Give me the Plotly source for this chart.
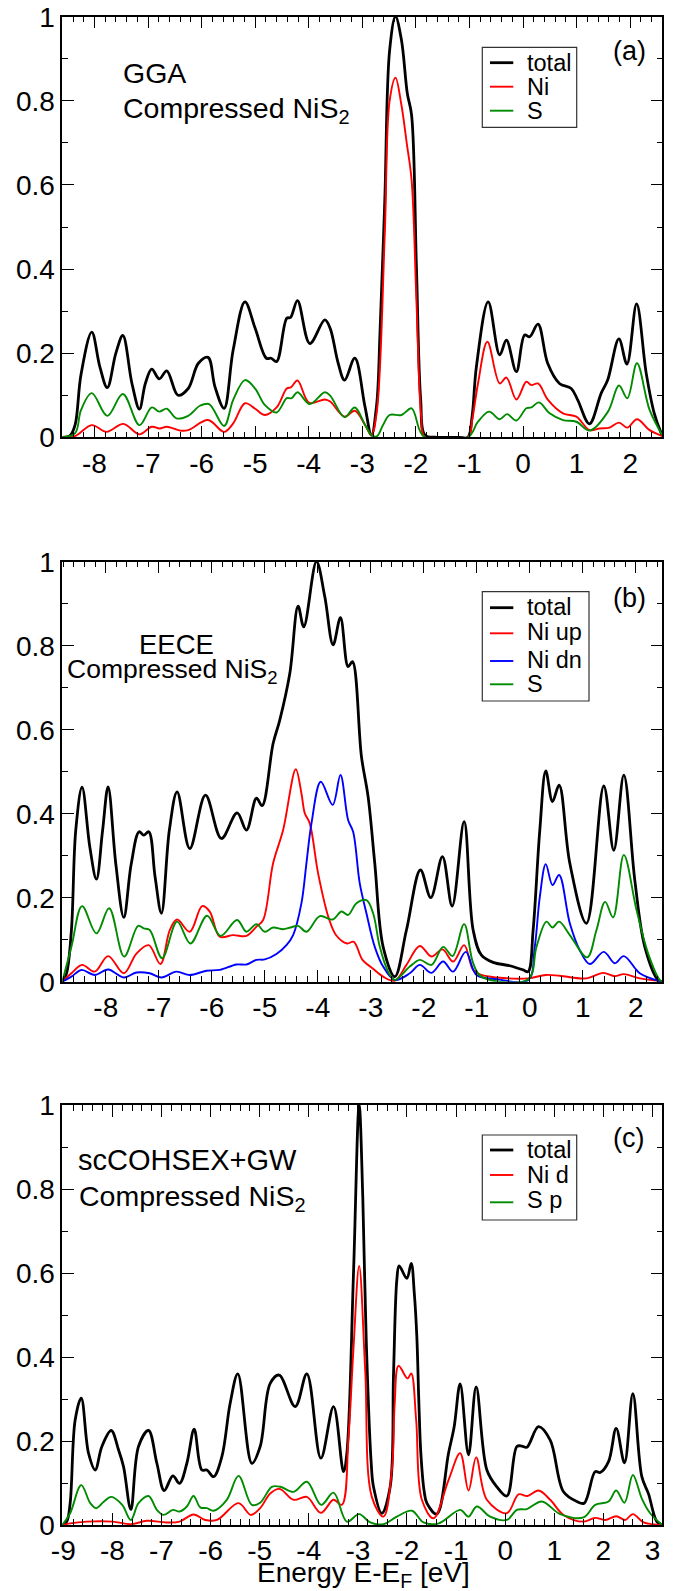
import plotly.graph_objects as go

W, H = 675, 1591
FONT = "Liberation Sans, Arial, Helvetica, sans-serif"

BLACK = "#000000"
RED = "#ff0000"
GREEN = "#008b00"
BLUE = "#0000ff"

# ---------------- panel (a): GGA ----------------
a_total_E = [-8.6, -8.45, -8.36, -8.25, -8.05, -7.9, -7.76, -7.6, -7.47, -7.3, -7.16, -7.05, -6.93, -6.79,
             -6.65, -6.44, -6.25, -6.06, -5.88, -5.75, -5.58, -5.41, -5.19, -5.0, -4.79, -4.70, -4.60, -4.41,
             -4.34, -4.21, -3.98, -3.70, -3.60, -3.45, -3.33, -3.14, -2.95, -2.83, -2.73, -2.67, -2.58, -2.49,
             -2.38, -2.27, -2.16, -2.08, -1.99, -1.91, -1.83, -1.6, -1.2, -1.03, -0.95, -0.87, -0.65, -0.435,
             -0.31, -0.125, 0.03, 0.124, 0.28, 0.46, 0.68, 0.90, 1.02, 1.24, 1.46, 1.58, 1.79, 1.94, 2.12,
             2.30, 2.45, 2.58, 2.6]
a_total = [0.0, 0.005, 0.03, 0.15, 0.25, 0.168, 0.118, 0.2, 0.242, 0.128, 0.067, 0.128, 0.162, 0.139,
           0.158, 0.10, 0.116, 0.176, 0.19, 0.12, 0.069, 0.208, 0.322, 0.259, 0.188, 0.188, 0.18, 0.283,
           0.285, 0.325, 0.223, 0.279, 0.259, 0.176, 0.136, 0.188, 0.073, 0.005, 0.08, 0.247, 0.564, 0.92,
           1.0, 0.945, 0.818, 0.766, 0.406, 0.089, 0.005, 0.0, 0.0, 0.0, 0.05, 0.168, 0.322, 0.196,
           0.231, 0.156, 0.243, 0.239, 0.269, 0.176, 0.128, 0.116, 0.089, 0.032, 0.105, 0.136, 0.234, 0.174, 0.317,
           0.152, 0.057, 0.01, 0.005]

a_ni_E = [-8.6, -8.36, -8.05, -7.77, -7.46, -7.16, -6.93, -6.78, -6.65, -6.4, -6.25, -5.88, -5.58, -5.41,
          -5.19, -5.0, -4.82, -4.60, -4.41, -4.33, -4.21, -3.99, -3.70, -3.60, -3.33, -3.14, -2.95, -2.83,
          -2.73, -2.58, -2.49, -2.38, -2.27, -2.17, -2.08, -1.99, -1.90, -1.83, -1.03, -0.95, -0.84, -0.665,
          -0.435, -0.31, -0.124, 0.062, 0.155, 0.28, 0.466, 0.746, 0.995, 1.244, 1.43, 1.617, 1.791, 1.947,
          2.127, 2.363, 2.6]
a_ni = [0.0, 0.003, 0.029, 0.013, 0.032, 0.007, 0.025, 0.021, 0.025, 0.016, 0.017, 0.041, 0.013, 0.033,
        0.081, 0.068, 0.053, 0.071, 0.116, 0.119, 0.135, 0.082, 0.09, 0.085, 0.049, 0.063, 0.03, 0.005,
        0.06, 0.485, 0.80, 0.855, 0.79, 0.699, 0.612, 0.326, 0.049, 0.0, 0.0, 0.04, 0.128, 0.227,
        0.128, 0.142, 0.09, 0.132, 0.124, 0.128, 0.089, 0.057, 0.049, 0.017, 0.021, 0.023, 0.035, 0.023,
        0.043, 0.017, 0.003]

a_s_E = [-8.6, -8.36, -8.25, -8.05, -7.76, -7.47, -7.16, -6.93, -6.79, -6.65, -6.47, -6.25, -6.03, -5.86,
         -5.58, -5.41, -5.19, -5.0, -4.82, -4.60, -4.41, -4.32, -4.21, -3.98, -3.70, -3.60, -3.33, -3.14,
         -2.95, -2.83, -2.73, -2.61, -2.49, -2.27, -2.08, -1.93, -1.83, -1.03, -0.84, -0.634, -0.435, -0.298,
         -0.124, 0.062, 0.155, 0.298, 0.497, 0.746, 0.995, 1.244, 1.586, 1.791, 1.947, 2.127, 2.363, 2.6]
a_s = [0.0, 0.01, 0.065, 0.105, 0.051, 0.103, 0.029, 0.071, 0.061, 0.068, 0.045, 0.051, 0.075, 0.079,
       0.027, 0.089, 0.136, 0.116, 0.077, 0.059, 0.093, 0.093, 0.107, 0.079, 0.107, 0.099, 0.048, 0.071,
       0.03, 0.005, 0.002, 0.03, 0.053, 0.053, 0.069, 0.017, 0.0, 0.0, 0.037, 0.061, 0.043, 0.055,
       0.04, 0.069, 0.071, 0.083, 0.057, 0.041, 0.037, 0.016, 0.061, 0.123, 0.093, 0.176, 0.065, 0.005]

# ---------------- panel (b): EECE ----------------
b_total_E = [-8.82, -8.74, -8.648, -8.566, -8.447, -8.30, -8.176, -8.06, -7.956, -7.81, -7.66, -7.52, -7.371,
             -7.283, -7.189, -7.07, -6.95, -6.80, -6.654, -6.415, -6.119, -5.818, -5.522, -5.346, -5.157,
             -5.05, -4.843, -4.717, -4.528, -4.371, -4.264, -4.025, -3.868, -3.711, -3.572, -3.428, -3.346,
             -3.176, -3.05, -2.925, -2.767, -2.547, -2.327, -2.063, -1.868, -1.648, -1.465, -1.239, -1.069,
             -0.912, -0.692, -0.377, -0.126, -0.031, 0.063, 0.189, 0.302, 0.428, 0.553, 0.755, 1.069, 1.396,
             1.585, 1.774, 1.981, 2.17, 2.421, 2.5]
b_total = [0.0, 0.02, 0.123, 0.361, 0.463, 0.32, 0.244, 0.36, 0.464, 0.28, 0.153, 0.28, 0.357,
           0.349, 0.357, 0.25, 0.163, 0.361, 0.452, 0.317, 0.444, 0.341, 0.402, 0.361, 0.437,
           0.419, 0.567, 0.623, 0.734, 0.894, 0.845, 1.0, 0.917, 0.802, 0.867, 0.75, 0.762,
           0.536, 0.44, 0.282, 0.083, 0.012, 0.123, 0.266, 0.2, 0.298, 0.18, 0.381, 0.123,
           0.063, 0.046, 0.038, 0.028, 0.024, 0.123, 0.361, 0.502, 0.429, 0.468, 0.282, 0.139, 0.466,
           0.313, 0.492, 0.242, 0.083, 0.004, 0.0]

b_niup_E = [-8.82, -8.648, -8.447, -8.208, -7.956, -7.66, -7.421, -7.189, -6.969, -6.792, -6.654, -6.415,
            -6.182, -6.038, -5.849, -5.597, -5.346, -5.157, -5.031, -4.843, -4.654, -4.415, -4.308, -4.245,
            -4.151, -3.994, -3.79, -3.65, -3.447, -3.321, -3.157, -2.969, -2.767, -2.547, -2.327, -2.075,
            -1.855, -1.648, -1.447, -1.239, -1.069, -0.912, -0.629, -0.031, 0.302, 0.566, 1.069, 1.384,
            1.604, 1.774, 2.075, 2.421, 2.5]
b_niup = [0.0, 0.02, 0.04, 0.024, 0.061, 0.02, 0.067, 0.087, 0.042, 0.123, 0.148, 0.119,
          0.18, 0.167, 0.107, 0.111, 0.109, 0.131, 0.147, 0.282, 0.361, 0.506, 0.448, 0.401,
          0.377, 0.258, 0.15, 0.11, 0.091, 0.095, 0.052, 0.032, 0.012, 0.002, 0.04, 0.085,
          0.06, 0.077, 0.048, 0.087, 0.028, 0.016, 0.01, 0.008, 0.016, 0.014, 0.008, 0.021,
          0.013, 0.018, 0.008, 0.002, 0.0]

b_nidn_E = [-8.82, -8.648, -8.459, -8.208, -7.956, -7.66, -7.421, -7.17, -6.95, -6.667, -6.415, -6.101,
            -5.849, -5.535, -5.346, -5.157, -5.0, -4.78, -4.591, -4.465, -4.308, -4.214, -4.119, -3.943,
            -3.72, -3.572, -3.428, -3.333, -3.208, -3.082, -2.925, -2.767, -2.547, -2.264, -2.075, -1.855,
            -1.635, -1.447, -1.208, -1.006, -0.629, -0.031, 0.094, 0.189, 0.302, 0.428, 0.553, 0.755,
            0.943, 1.132, 1.396, 1.604, 1.774, 2.075, 2.421, 2.5]
b_nidn = [0.0, 0.012, 0.028, 0.016, 0.029, 0.01, 0.022, 0.02, 0.01, 0.024, 0.016, 0.026,
          0.028, 0.041, 0.041, 0.052, 0.053, 0.066, 0.087, 0.111, 0.187, 0.282, 0.377, 0.476,
          0.421, 0.492, 0.385, 0.357, 0.234, 0.163, 0.083, 0.036, 0.004, 0.02, 0.04, 0.021,
          0.048, 0.024, 0.071, 0.016, 0.006, 0.004, 0.083, 0.202, 0.28, 0.23, 0.254, 0.139,
          0.075, 0.042, 0.071, 0.044, 0.061, 0.02, 0.002, 0.0]

b_s_E = [-8.82, -8.648, -8.447, -8.176, -7.937, -7.654, -7.39, -7.283, -7.17, -6.937, -6.654, -6.403,
         -6.088, -5.836, -5.522, -5.346, -5.157, -5.0, -4.843, -4.654, -4.516, -4.371, -4.214, -3.962,
         -3.72, -3.553, -3.428, -3.27, -3.082, -2.956, -2.83, -2.673, -2.547, -2.264, -2.075, -1.855,
         -1.635, -1.459, -1.239, -1.069, -0.912, -0.031, 0.126, 0.314, 0.428, 0.553, 0.755, 1.082,
         1.258, 1.421, 1.572, 1.774, 2.013, 2.233, 2.453, 2.5]
b_s = [0.0, 0.083, 0.18, 0.115, 0.175, 0.06, 0.133, 0.127, 0.123, 0.056, 0.143, 0.091,
       0.157, 0.109, 0.147, 0.119, 0.137, 0.119, 0.129, 0.125, 0.129, 0.133, 0.119, 0.156,
       0.148, 0.167, 0.159, 0.187, 0.194, 0.163, 0.083, 0.024, 0.004, 0.036, 0.052, 0.04,
       0.083, 0.061, 0.137, 0.044, 0.012, 0.006, 0.083, 0.143, 0.129, 0.143, 0.111, 0.058,
       0.123, 0.19, 0.153, 0.302, 0.171, 0.067, 0.004, 0.0]

# ---------------- panel (c): scCOHSEX+GW ----------------
c_total_E = [-9.02, -8.93, -8.86, -8.758, -8.635, -8.486, -8.35, -8.214, -8.024, -7.875, -7.773, -7.624,
             -7.468, -7.264, -7.094, -6.945, -6.768, -6.633, -6.483, -6.334, -6.178, -6.076, -5.94, -5.77,
             -5.601, -5.445, -5.16, -4.99, -4.786, -4.603, -4.277, -4.039, -3.754, -3.496, -3.293, -3.225,
             -3.089, -2.974, -2.9, -2.83, -2.73, -2.682, -2.512, -2.342, -2.274, -2.206, -2.159, -2.003,
             -1.914, -1.85, -1.799, -1.76, -1.718, -1.65, -1.595, -1.392, -1.154, -1.039, -0.917, -0.747,
             -0.591, -0.373, -0.17, 0.034, 0.238, 0.339, 0.441, 0.679, 0.917, 1.188, 1.46, 1.609, 1.833,
             1.935, 2.105, 2.261, 2.43, 2.6, 2.783, 2.919, 3.089, 3.2]
c_total = [0.0, 0.008, 0.052, 0.25, 0.302, 0.171, 0.131, 0.187, 0.225, 0.179, 0.139, 0.037,
           0.187, 0.225, 0.147, 0.082, 0.117, 0.099, 0.147, 0.228, 0.131, 0.131, 0.115, 0.163,
           0.29, 0.36, 0.147, 0.187, 0.337, 0.357, 0.282, 0.36, 0.159, 0.282, 0.127, 0.17,
           0.6, 1.0, 0.78, 0.44, 0.15, 0.091, 0.028, 0.091, 0.36, 0.585, 0.617, 0.587,
           0.623, 0.55, 0.448, 0.3, 0.171, 0.08, 0.052, 0.026, 0.171, 0.234, 0.336, 0.167,
           0.329, 0.131, 0.091, 0.069, 0.187, 0.188, 0.185, 0.234, 0.202, 0.079, 0.056, 0.052, 0.127,
           0.125, 0.151, 0.23, 0.148, 0.313, 0.115, 0.074, 0.008, 0.0]

c_nid_E = [-9.02, -8.86, -8.52, -8.0, -7.62, -7.298, -6.9, -6.633, -6.348, -6.11, -5.87, -5.431, -5.18,
           -4.99, -4.786, -4.596, -4.311, -4.039, -3.754, -3.496, -3.327, -3.191, -3.09, -2.974, -2.851,
           -2.716, -2.478, -2.308, -2.25, -2.172, -1.989, -1.914, -1.813, -1.697, -1.46, -1.154, -0.917,
           -0.747, -0.591, -0.373, 0.034, 0.272, 0.455, 0.679, 0.917, 1.188, 1.595, 1.833, 2.037, 2.261,
           2.444, 2.6, 2.817, 3.0, 3.2]
c_nid = [0.0, 0.004, 0.008, 0.008, 0.002, 0.01, 0.006, 0.008, 0.025, 0.012, 0.012, 0.052, 0.024,
         0.04, 0.075, 0.086, 0.06, 0.067, 0.029, 0.06, 0.048, 0.21, 0.42, 0.617, 0.369,
         0.067, 0.02, 0.131, 0.29, 0.379, 0.349, 0.361, 0.25, 0.06, 0.016, 0.107, 0.171,
         0.082, 0.161, 0.06, 0.028, 0.073, 0.069, 0.082, 0.06, 0.024, 0.008, 0.017, 0.012, 0.021,
         0.012, 0.026, 0.006, 0.002, 0.0]

c_sp_E = [-9.02, -8.86, -8.635, -8.45, -8.33, -8.17, -8.024, -7.8, -7.624, -7.468, -7.264, -7.094, -6.958,
          -6.768, -6.633, -6.483, -6.348, -6.21, -6.076, -5.94, -5.67, -5.431, -5.16, -4.99, -4.752, -4.58,
          -4.311, -4.039, -3.747, -3.496, -3.225, -2.974, -2.749, -2.478, -2.206, -1.901, -1.663, -1.35,
          -0.917, -0.747, -0.577, -0.306, 0.034, 0.238, 0.441, 0.747, 1.12, 1.595, 1.833, 2.105, 2.261,
          2.43, 2.6, 2.783, 2.953, 3.2]
c_sp = [0.0, 0.028, 0.095, 0.052, 0.04, 0.056, 0.067, 0.048, 0.012, 0.052, 0.069, 0.036, 0.024,
        0.036, 0.032, 0.044, 0.069, 0.042, 0.04, 0.034, 0.06, 0.117, 0.048, 0.053, 0.091, 0.091,
        0.079, 0.103, 0.048, 0.077, 0.008, 0.026, 0.006, 0.002, 0.02, 0.034, 0.006, 0.004,
        0.036, 0.02, 0.044, 0.02, 0.012, 0.036, 0.038, 0.056, 0.026, 0.018, 0.048, 0.056, 0.082,
        0.053, 0.119, 0.063, 0.028, 0.0]

# ---------------- axes ----------------
a_xrange = [-8.6, 2.6]
b_xrange = [-8.82, 2.5]
c_xrange = [-9.02, 3.2]
a_xticks = [-8, -7, -6, -5, -4, -3, -2, -1, 0, 1, 2]
b_xticks = [-8, -7, -6, -5, -4, -3, -2, -1, 0, 1, 2]
c_xticks = [-9, -8, -7, -6, -5, -4, -3, -2, -1, 0, 1, 2, 3]
y_ticks = [0, 0.2, 0.4, 0.6, 0.8, 1.0]
y_ticklabels = ["0", "0.2", "0.4", "0.6", "0.8", "1"]

a_series = [("total", a_total_E, a_total, BLACK), ("Ni", a_ni_E, a_ni, RED), ("S", a_s_E, a_s, GREEN)]
b_series = [("total", b_total_E, b_total, BLACK), ("Ni up", b_niup_E, b_niup, RED),
            ("Ni dn", b_nidn_E, b_nidn, BLUE), ("S", b_s_E, b_s, GREEN)]
c_series = [("total", c_total_E, c_total, BLACK), ("Ni d", c_nid_E, c_nid, RED), ("S p", c_sp_E, c_sp, GREEN)]

# pixel layout of the plot areas (top, bottom) in page pixels
PLOT_L, PLOT_R = 62.3, 662.3
panel_px = [(16.7, 437.3), (561.7, 981.7), (1105.0, 1525.0)]


def px2x(x):
    return x / W


def px2y(y):
    return 1 - y / H


fig = go.Figure()

panels = [(a_series, a_xrange, a_xticks), (b_series, b_xrange, b_xticks), (c_series, c_xrange, c_xticks)]
for i, (series, xr, xt) in enumerate(panels):
    sfx = "" if i == 0 else str(i + 1)
    for name, E, v, col in series:
        fig.add_trace(go.Scatter(
            x=E, y=v, name=name, mode="lines", showlegend=False,
            line=dict(color=col, width=2.8 if col == BLACK else 1.9, shape="spline", smoothing=1.0),
            xaxis="x" + sfx, yaxis="y" + sfx))
    top, bot = panel_px[i]
    axis_common = dict(showline=True, linecolor="black", linewidth=1.5, mirror="allticks",
                       ticks="inside", ticklen=12, tickwidth=1.3, tickcolor="black",
                       showgrid=False, zeroline=False,
                       tickfont=dict(family=FONT, size=28, color="black"))
    fig.layout["xaxis" + sfx] = dict(
        axis_common, domain=[px2x(PLOT_L), px2x(PLOT_R)], range=xr, anchor="y" + sfx,
        tickmode="array", tickvals=xt, ticktext=[str(t) for t in xt],
        minor=dict(tickmode="linear", tick0=0, dtick=0.2, ticks="inside", ticklen=6,
                   tickwidth=1.2, tickcolor="black", showgrid=False))
    fig.layout["yaxis" + sfx] = dict(
        axis_common, domain=[px2y(bot), px2y(top)], range=[0, 1], anchor="x" + sfx,
        tickmode="array", tickvals=y_ticks, ticktext=y_ticklabels,
        minor=dict(tickmode="linear", tick0=0, dtick=0.1, ticks="inside", ticklen=6,
                   tickwidth=1.2, tickcolor="black", showgrid=False))

annotations = []
shapes = []


def text(txt, x, baseline, size, xanchor="left"):
    annotations.append(dict(text=txt, x=px2x(x), y=px2y(baseline - 0.905 * size - 2),
                            xref="paper", yref="paper", xanchor=xanchor, yanchor="top",
                            showarrow=False, font=dict(family=FONT, size=size, color="black")))


# panel labels
text("GGA", 121, 82.3, 28.5)
text("Compressed NiS<sub>2</sub>", 121, 117.5, 28.5)
text("(a)", 611, 60.5, 27)

text("EECE", 176.7, 654.3, 27.5, xanchor="center")
text("Compressed NiS<sub>2</sub>", 64.5, 678.3, 26.5)
text("(b)", 611, 607.5, 27)

text("scCOHSEX+GW", 76, 1170, 29)
text("Compressed NiS<sub>2</sub>", 77, 1206, 28.5)
text("(c)", 611, 1147.5, 27)

text("Energy E-E<sub>F</sub> [eV]", 363, 1582, 28, xanchor="center")

# legends (box, line samples, labels)
legends = [
    ((482.3, 47.3, 576.7, 127.3), a_series, [62.7, 86.7, 110.7], [71.7, 95.0, 119.5]),
    ((482.3, 591.7, 589.0, 701.0), b_series, [607.7, 633.3, 661.0, 684.3], [615.7, 640.5, 668.3, 692.0]),
    ((482.3, 1135.0, 576.7, 1220.0), c_series, [1150.0, 1175.0, 1202.3], [1158.3, 1183.3, 1208.3]),
]
for (x0, y0, x1, y1), series, ly, tb in legends:
    shapes.append(dict(type="rect", xref="paper", yref="paper", x0=px2x(x0), x1=px2x(x1),
                       y0=px2y(y1), y1=px2y(y0), line=dict(color="#333333", width=1.2),
                       fillcolor="white", layer="above"))
    for (name, E, v, col), yl, b in zip(series, ly, tb):
        shapes.append(dict(type="line", xref="paper", yref="paper", x0=px2x(490), x1=px2x(513.3),
                           y0=px2y(yl), y1=px2y(yl),
                           line=dict(color=col, width=2.8 if col == BLACK else 1.9), layer="above"))
        text(name, 524.5, b, 23.5)

fig.update_layout(
    width=W, height=H, margin=dict(l=0, r=0, t=0, b=0, autoexpand=False),
    paper_bgcolor="white", plot_bgcolor="white",
    annotations=annotations, shapes=shapes, showlegend=False,
    font=dict(family=FONT, color="black"),
)

fig.write_html("out.html")
